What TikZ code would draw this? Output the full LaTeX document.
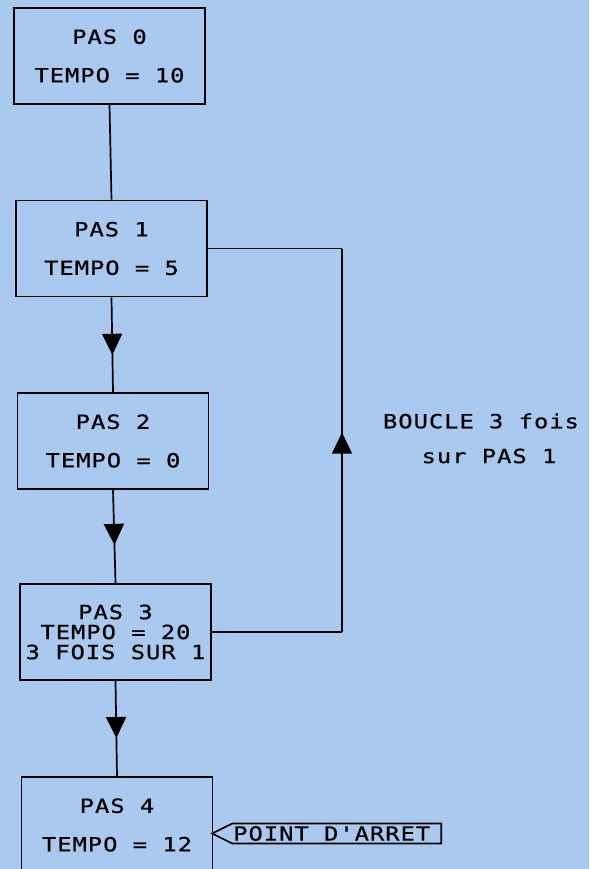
\documentclass[tikz,border=0pt]{standalone}
\usepackage{fontspec}
\usetikzlibrary{arrows.meta,decorations.markings,shapes.symbols}
\newfontfamily\plotfont[LetterSpace=5,FakeStretch=1.22,FakeBold=0.6]{DejaVu Sans Mono}
\definecolor{bgblue}{RGB}{170,201,238}
\tikzset{
  plottext/.style={font=\plotfont\fontsize{19.5}{20}\selectfont},
  stepbox/.style={draw=black, line width=1.7pt, minimum width=191pt, minimum height=96pt,
    inner sep=0pt, align=center, plottext},
  lbl/.style={inner sep=0pt, plottext},
  conn/.style={draw=black, line width=1.7pt},
  midtri/.style={postaction={decorate}, decoration={markings,
    mark=at position #1 with {\arrow{Triangle[width=20pt,length=21pt]}}}},
  tagbox/.style={draw=black, line width=1.6pt, shape=signal, signal to=west,
    signal pointer angle=53, minimum height=20pt, minimum width=229pt, inner sep=0pt, plottext},
}
\begin{document}
\begin{tikzpicture}[x=1pt,y=-1pt]
\useasboundingbox (0,0) rectangle (589,869);
\clip (0,0) rectangle (589,869);
\fill[bgblue] (0,0) rectangle (589,869);

\node[stepbox] (b0) at (109.5,56) {PAS 0\\[18.5pt]TEMPO = 10};
\node[stepbox] (b1) at (111.5,248.5) {PAS 1\\[18.5pt]TEMPO = 5};
\node[stepbox] (b2) at (113,441) {PAS 2\\[18.5pt]TEMPO = 0};
\node[stepbox] (b3) at (115.5,632) {PAS 3\\TEMPO = 20\\3 FOIS SUR 1};
\node[stepbox] (b4) at (117,825) {PAS 4\\[18.5pt]TEMPO = 12};

\node[tagbox, anchor=east] (tag) at (442,833.5) {POINT D'ARRET\kern10pt};

\node[lbl] (loop1) at (481,421) {BOUCLE 3 fois};
\node[lbl] (loop2) at (489,456) {sur PAS 1};

\coordinate (c1) at (342,248.5);
\coordinate (c3) at (342,632);

\draw[conn] (b0.south) -- (b1.north);
\draw[conn, midtri=0.606] (b1.south) -- (b2.north);
\draw[conn, midtri=0.59] (b2.south) -- (b3.north);
\draw[conn, midtri=0.6] (b3.south) -- (b4.north);
\draw[conn] (b3.east) -- (c3);
\draw[conn, midtri=0.52] (c3) -- (c1);
\draw[conn] (c1) -- (b1.east);
\end{tikzpicture}
\end{document}
